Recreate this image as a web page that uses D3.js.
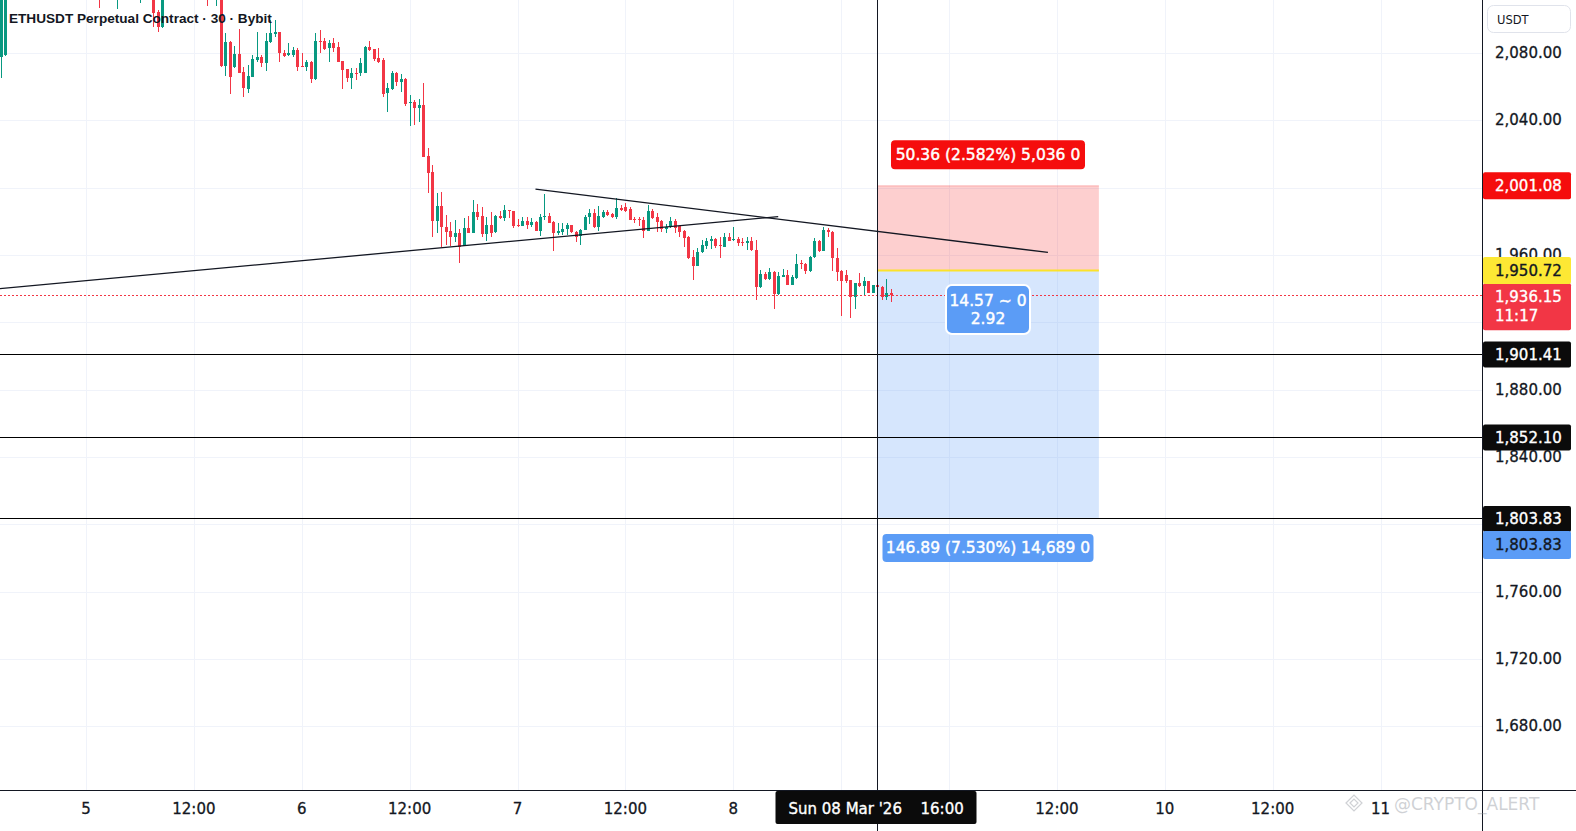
<!DOCTYPE html>
<html><head><meta charset="utf-8">
<script src="https://cdn.jsdelivr.net/npm/d3@7"></script>
<style>html,body{margin:0;padding:0;background:#fff;overflow:hidden}svg{display:block}</style>
</head><body><svg id="c" width="1576" height="831"></svg>
<script>
// ---------------- DATA ----------------
const firstCandle = new Date(2026, 2, 4, 14, 30); // 30-minute candles from here
const opens = [2077.6,2078.8,2121,2130,2127,2131,2136,2130,2124,2127,2122,2125,2129,2133,2129,2124,2126,2121,2123,2119,2122,2118,2121,2115,2120,2124,2117,2123,2128,2125,2119,2116,2122,2125,2118,2104.4,2095.5,2116,2124,2132,2137,2134,2129,2133,2126,2121,2118,2113,2114,2119,2072.3,2086.5,2071.7,2079.4,2068.7,2058.6,2065.8,2075.9,2077.6,2074.1,2086.5,2091.3,2092.5,2080,2078.8,2078.8,2081.8,2072.3,2071.7,2074.7,2064.6,2087.1,2087.1,2083,2086,2083.6,2075.3,2070.5,2065.2,2068.1,2068.1,2068.1,2083.6,2082.4,2077,2075.9,2056.2,2058.6,2068.3,2062.6,2064.6,2050.1,2051.1,2047.5,2049.1,2018.8,2009.3,1980.4,1989.1,1976.8,1974.3,1970.5,1972.9,1965.5,1975.9,1973.3,1985.7,1983.2,1972.5,1977.8,1973.5,1983.2,1982.2,1986.7,1986.1,1977.8,1977.4,1980.2,1977.8,1979.8,1974.4,1982.8,1983.4,1979.8,1972.9,1973.5,1975.3,1977.8,1973.8,1971.3,1974.8,1982.3,1985.1,1976.8,1982.8,1985.7,1984.4,1982.8,1987.7,1988.3,1987.2,1981.4,1981.4,1980.8,1974.4,1986.3,1982.4,1980.2,1975.5,1976.5,1980.4,1977.2,1974.3,1970.9,1958.6,1953.6,1961.9,1965.4,1968.5,1969.3,1965.9,1965,1970.9,1968.9,1969.7,1967.9,1967,1968.5,1963,1941,1948.7,1945.7,1950.1,1936.8,1947.1,1948.1,1942.4,1946.2,1955.4,1954.5,1950.7,1958.6,1968.5,1962.6,1974.9,1973.8,1958.4,1950.5,1948.1,1945.2,1935.2,1943.2,1941.6,1944.6,1937.6,1942.2,1940.8,1934.9,1937.2];
const highs = [2122,2126,2135,2138,2134,2140,2142,2134,2130,2133,2128,2132,2136,2139,2133,2129,2131,2127,2128,2126,2127,2125,2126,2123,2127,2129,2126,2131,2134,2130,2124,2125,2128,2129,2121,2105.5,2120,2128,2136,2141,2146,2140,2137,2138,2131,2127,2123,2121,2122,2121,2091.9,2087,2084.2,2094.3,2071.7,2072.9,2078.8,2092.5,2078.8,2091.9,2099.6,2099.6,2092.5,2081.8,2086,2083.6,2083,2080,2075.9,2075,2091.9,2093.7,2088.9,2087.7,2088.9,2086.5,2075.5,2070.7,2071.1,2071.1,2077,2084.2,2087.1,2082.6,2083,2077,2062.2,2069.3,2068.5,2067.5,2065.3,2055.1,2052.1,2052.7,2062.4,2023.6,2013.5,1996.8,1997.6,1983.8,1979.6,1980.8,1975.5,1982,1983.2,1992.7,1990.3,1988.7,1982.8,1985.7,1983.8,1986.3,1989.7,1986.9,1986.3,1981.2,1982.4,1982.8,1981.8,1980.4,1984.4,1996.2,1985.1,1980,1979.2,1978.8,1979.2,1978,1974.4,1975.3,1983.8,1987.2,1987.2,1989.1,1986.7,1986.7,1985,1993.7,1989.7,1990.7,1988.3,1982.8,1982.8,1982.8,1989.7,1987.2,1984.8,1980.8,1978.4,1982.4,1981.2,1977.4,1974.9,1971.1,1963,1964,1968.9,1969.9,1971.3,1969.9,1970.5,1972.9,1972.9,1976.5,1970.5,1969.9,1970.5,1970.5,1968.9,1951.1,1950.1,1952.1,1950.5,1950.1,1951.5,1951.1,1948.1,1960.6,1957,1955.4,1959.4,1969.9,1968.9,1976.8,1975.9,1974,1964,1951.1,1951.1,1945.4,1943.4,1949.5,1946.8,1944.8,1942.4,1942.4,1941.8,1945.6,1939.6];
const lows = [2065.2,2078,2117,2124,2120,2126,2128,2121,2118,2120,2115,2119,2124,2127,2121,2117,2119,2115,2116,2114,2116,2114,2106.7,2113,2116,2114,2106.2,2119,2122,2116,2113,2109.7,2117,2115,2095.5,2092.5,2094.9,2113,2120,2126,2131,2125,2123,2122,2117,2114,2107.9,2112,2108,2071.7,2066.4,2055.7,2071.1,2068.1,2053.9,2056.2,2065.8,2074.7,2071.7,2069.3,2086,2089.5,2074.7,2077.6,2078.2,2077.6,2069.3,2071.5,2069.3,2062.2,2064,2080,2081.8,2074.7,2080.6,2074.5,2058.6,2062.8,2058.6,2064,2066.4,2067.9,2081.2,2075.3,2074.1,2053.9,2045,2058,2060.4,2057,2048.7,2036.8,2037.2,2039.2,2018,1996.8,1970.9,1973.1,1964.9,1966,1965.4,1967.9,1955.1,1965.3,1973,1973,1980.8,1970.9,1968.5,1970.9,1973.3,1981.4,1980.2,1981.8,1976.2,1976.5,1977.2,1975.3,1976.8,1974,1971.3,1980.8,1979,1962.6,1971.9,1971.9,1971.9,1972.9,1967.9,1966,1974.6,1978.4,1975.9,1974.4,1981.8,1983.2,1982,1981.4,1986.3,1985.7,1980.6,1978.8,1977.2,1969.9,1974.2,1981.2,1973.8,1973.5,1973.3,1975.9,1972.9,1970.9,1964.9,1957.4,1945.2,1953.4,1961.4,1963.4,1963.4,1964,1958,1964.6,1968.3,1968.5,1965.4,1965.4,1963,1962.6,1933.3,1940.6,1945.2,1945.2,1927.9,1936.4,1946.9,1942.2,1942,1946,1951.7,1948.7,1950.1,1958.4,1962,1962.4,1970.5,1950.7,1944.6,1923.8,1943.2,1922.4,1927.7,1940.8,1936.2,1937.4,1937.4,1939,1933.3,1933.3,1932.3];
const closes = [2118,2121,2130,2127,2131,2136,2130,2124,2127,2122,2125,2129,2133,2129,2124,2126,2121,2123,2119,2122,2118,2121,2115,2120,2124,2117,2123,2128,2125,2119,2116,2122,2125,2118,2103.8,2095.5,2116,2124,2132,2137,2134,2129,2133,2126,2121,2118,2113,2116,2119,2072.3,2086.5,2065.8,2079.4,2068.1,2059.2,2066.4,2076.4,2077.6,2074.1,2087.1,2091.9,2092.5,2080,2078.2,2080,2081.8,2071.7,2071.7,2074.7,2064.6,2087.1,2086.5,2082.4,2086,2083,2074.7,2069.9,2065.2,2068.1,2067.6,2074.1,2083.6,2081.8,2076.4,2074.7,2055.9,2059.2,2068.3,2062.6,2064.6,2049.7,2051.1,2047.5,2049.1,2018.4,2008.9,1980.4,1989.1,1976.5,1973.5,1970.5,1973.3,1964.9,1975.9,1973.3,1985.4,1982.8,1972.5,1977.8,1973.3,1983.2,1981.8,1986.7,1986.3,1977.4,1977.4,1980.2,1977.8,1979.8,1974.4,1982.8,1983.4,1979.2,1972.9,1974.4,1975.5,1977.8,1973.5,1970.9,1974.8,1982.8,1985.1,1976.5,1983.2,1985.7,1983.8,1982.8,1987.7,1986.7,1986.3,1980.8,1980.8,1980.8,1974.4,1986.3,1981.8,1979.8,1975.3,1976.8,1980.4,1975.9,1973.8,1970.3,1958,1953.6,1961.9,1965.9,1968.5,1969.3,1965.4,1965.5,1970.9,1968.5,1969.7,1967.3,1967.3,1968.3,1963,1941.2,1948.7,1945.7,1950.1,1936.8,1947.5,1948.1,1942.4,1946.8,1954.7,1954.7,1950.7,1958.6,1968.5,1962.6,1974.9,1973.5,1958,1950.1,1944.8,1944.8,1935.2,1943.2,1941.6,1944.6,1937.6,1942.2,1940.8,1934.9,1937.2,1936.15];

const yTicks = [2080, 2040, 2000, 1960, 1920, 1880, 1840, 1800, 1760, 1720, 1680];
const xTickLabels = ["5", "12:00", "6", "12:00", "7", "12:00", "8", "12:00", "9", "12:00", "10", "12:00", "11"];
const firstTick = new Date(2026, 2, 5, 0, 0);
const horizontalLevels = [1901.41, 1852.10, 1803.83];
const trendA = [[new Date(2026, 2, 4, 14, 0), 1939.8], [new Date(2026, 2, 8, 5, 0), 1982.8]];
const trendB = [[new Date(2026, 2, 7, 2, 0), 1999.1], [new Date(2026, 2, 9, 11, 0), 1961.5]];
const entryPrice = 1950.72, stopPrice = 2001.08, targetPrice = 1803.83, lastPrice = 1936.15;
const posStart = new Date(2026, 2, 8, 16, 0), posEnd = new Date(2026, 2, 9, 16, 40);
const crosshairTime = new Date(2026, 2, 8, 16, 0);
const stopLabel = "50.36 (2.582%) 5,036 0";
const targetLabel = "146.89 (7.530%) 14,689 0";
const midLabel = ["14.57 ~ 0", "2.92"];
const countdown = "11:17";
const title = "ETHUSDT Perpetual Contract · 30 · Bybit";
const watermark = "@CRYPTO_ALERT";

// ---------------- LAYOUT ----------------
const W = 1576, H = 831, plotR = 1482, plotB = 790;
const FONT = "'DejaVu Sans', Verdana, sans-serif";
const svg = d3.select("#c");
const x = d3.scaleTime().domain([firstTick, new Date(2026, 2, 11, 0, 0)]).range([86, 86 + 144 * 8.99]);
const y = d3.scaleLinear().domain([1680, 2080]).range([53 + 400 * 1.6833, 53]);
const GREEN = "#089981", RED = "#f23645", STOPRED = "#f50d0d", BLUE = "#5b9cf6";

function heavy(sel, color, w = 0.35) {
  return sel.attr("stroke", color).attr("stroke-width", w).attr("paint-order", "stroke");
}

svg.append("rect").attr("width", W).attr("height", H).attr("fill", "#fff");
svg.append("defs").append("clipPath").attr("id", "plot")
  .append("rect").attr("x", 0).attr("y", 0).attr("width", plotR).attr("height", plotB);
const plot = svg.append("g").attr("clip-path", "url(#plot)");

// grid
const tickTimes = xTickLabels.map((_, i) => d3.timeHour.offset(firstTick, 12 * i));
const grid = plot.append("g").attr("shape-rendering", "crispEdges").attr("stroke", "#f0f3fa");
grid.selectAll(".gy").data([...yTicks, 1640]).join("line")
  .attr("x1", 0).attr("x2", plotR).attr("y1", d => Math.round(y(d)) + 0.5).attr("y2", d => Math.round(y(d)) + 0.5);
grid.selectAll(".gx").data(tickTimes).join("line")
  .attr("y1", 0).attr("y2", plotB).attr("x1", d => Math.round(x(d)) + 0.5).attr("x2", d => Math.round(x(d)) + 0.5);

// position zones
const px0 = x(posStart), px1 = x(posEnd);
plot.append("rect").attr("x", px0).attr("width", px1 - px0)
  .attr("y", y(stopPrice)).attr("height", y(entryPrice) - y(stopPrice)).attr("fill", "rgba(245,13,13,0.2)");
plot.append("line").attr("x1", px0).attr("x2", px1).attr("y1", y(stopPrice)).attr("y2", y(stopPrice))
  .attr("stroke", "rgba(245,13,13,0.25)").attr("stroke-width", 1);
plot.append("rect").attr("x", px0).attr("width", px1 - px0)
  .attr("y", y(entryPrice)).attr("height", y(targetPrice) - y(entryPrice)).attr("fill", "rgba(91,156,246,0.25)");

// candles
const candles = opens.map((o, i) => ({
  t: d3.timeMinute.offset(firstCandle, 30 * i), o, h: highs[i], l: lows[i], c: closes[i]
}));
const cg = plot.append("g").attr("shape-rendering", "crispEdges");
const cs = cg.selectAll("g").data(candles).join("g");
cs.append("line")
  .attr("x1", d => Math.round(x(d.t)) + 0.5).attr("x2", d => Math.round(x(d.t)) + 0.5)
  .attr("y1", d => y(d.h)).attr("y2", d => y(d.l))
  .attr("stroke", d => d.c >= d.o ? GREEN : RED);
cs.append("rect")
  .attr("x", d => Math.round(x(d.t)) - 1).attr("width", 3)
  .attr("y", d => y(Math.max(d.o, d.c)))
  .attr("height", d => Math.max(1, Math.abs(y(d.o) - y(d.c))))
  .attr("fill", d => d.c >= d.o ? GREEN : RED);

// horizontal levels
plot.selectAll(".hl").data(horizontalLevels).join("line")
  .attr("x1", 0).attr("x2", plotR)
  .attr("y1", d => Math.round(y(d)) + 0.5).attr("y2", d => Math.round(y(d)) + 0.5)
  .attr("stroke", "#000").attr("stroke-width", 1).attr("shape-rendering", "crispEdges");

// trend lines
const lineGen = d3.line().x(d => x(d[0])).y(d => y(d[1]));
[trendA, trendB].forEach(tl => plot.append("path").attr("d", lineGen(tl))
  .attr("fill", "none").attr("stroke", "#131722").attr("stroke-width", 1.3));

// entry line
plot.append("line").attr("x1", px0).attr("x2", px1).attr("y1", y(entryPrice)).attr("y2", y(entryPrice))
  .attr("stroke", "#fbe22a").attr("stroke-width", 2);

// last price dotted line
plot.append("line").attr("x1", 0).attr("x2", plotR)
  .attr("y1", Math.round(y(lastPrice)) + 0.5).attr("y2", Math.round(y(lastPrice)) + 0.5)
  .attr("stroke", RED).attr("stroke-dasharray", "2,2").attr("shape-rendering", "crispEdges");

// crosshair
const chx = Math.round(x(crosshairTime)) + 0.5;
svg.append("line").attr("x1", chx).attr("x2", chx).attr("y1", 0).attr("y2", plotB)
  .attr("stroke", "#131722").attr("stroke-width", 1).attr("shape-rendering", "crispEdges");

// position labels
const pcx = (px0 + px1) / 2;
function boxLabel(cx, cy, w, h, fill, lines, opts = {}) {
  const g = svg.append("g");
  g.append("rect").attr("x", cx - w / 2).attr("y", cy - h / 2).attr("width", w).attr("height", h)
    .attr("rx", opts.rx || 4).attr("fill", fill)
    .attr("stroke", opts.stroke || "none").attr("stroke-width", opts.sw || 0);
  const lh = opts.lh || 17.5;
  lines.forEach((s, i) => {
    heavy(g.append("text").attr("x", cx).attr("y", cy + (i - (lines.length - 1) / 2) * lh + 5.6)
      .attr("text-anchor", "middle").attr("fill", "#fff").attr("font-family", FONT)
      .attr("font-size", opts.fs || 15.5).text(s), "#fff", 0.45);
  });
}
boxLabel(pcx, y(stopPrice) - 31, 194, 29, STOPRED, [stopLabel]);
boxLabel(pcx, y(targetPrice) + 30, 211, 28, BLUE, [targetLabel]);
boxLabel(pcx, 309.5, 84, 49, BLUE, midLabel, {stroke: "#fff", sw: 2, rx: 6, lh: 17.6});

// title
svg.append("text").attr("x", 9).attr("y", 23).attr("font-family", "'Liberation Sans', Arial, sans-serif")
  .attr("font-weight", "bold").attr("font-size", 13.6).attr("fill", "#131722").text(title);

// ---------------- AXES ----------------
svg.append("rect").attr("x", plotR).attr("y", 0).attr("width", W - plotR).attr("height", H).attr("fill", "#fff");
svg.append("rect").attr("x", 0).attr("y", plotB).attr("width", W).attr("height", H - plotB).attr("fill", "#fff");
svg.append("line").attr("x1", plotR + 0.5).attr("x2", plotR + 0.5).attr("y1", 0).attr("y2", H)
  .attr("stroke", "#131722").attr("shape-rendering", "crispEdges");
svg.append("line").attr("x1", 0).attr("x2", W).attr("y1", plotB + 0.5).attr("y2", plotB + 0.5)
  .attr("stroke", "#131722").attr("shape-rendering", "crispEdges");
svg.append("line").attr("x1", chx).attr("x2", chx).attr("y1", plotB).attr("y2", H)
  .attr("stroke", "#131722").attr("shape-rendering", "crispEdges");

const fmt = d3.format(",.2f");

// axis price labels (boxes) definitions
const axisBoxes = [
  {cy: y(stopPrice), h: 27, fill: STOPRED, color: "#fff", lines: [fmt(stopPrice)]},
  {cy: y(lastPrice) + 11.5, h: 47, fill: RED, color: "#fff", lines: [fmt(lastPrice), countdown]},
  {cy: y(entryPrice), h: 27, fill: "#fde834", color: "#131722", lines: [fmt(entryPrice)]},
  ...horizontalLevels.map(v => ({cy: y(v) + 1, h: 26, fill: "#0b0b0b", color: "#fff", lines: [fmt(v)]})),
  {cy: y(targetPrice) + 27, h: 28, fill: BLUE, color: "#131722", lines: [fmt(targetPrice)]}
];
// tick labels fully covered by a price box are not drawn (the terminal hides them)
const shownTicks = yTicks.filter(v => !axisBoxes.some(b =>
  b.cy - b.h / 2 <= y(v) - 5 && b.cy + b.h / 2 >= y(v) + 5));
heavy(svg.append("g").selectAll("text").data(shownTicks).join("text")
  .attr("x", 1495).attr("y", d => y(d) + 5).attr("font-family", FONT).attr("font-size", 15)
  .attr("fill", "#131722").text(d => fmt(d)), "#131722", 0.3);

// USDT button
svg.append("rect").attr("x", 1487.5).attr("y", 5.5).attr("width", 83).attr("height", 27).attr("rx", 6)
  .attr("fill", "#fff").attr("stroke", "#e0e3eb");
svg.append("text").attr("x", 1497).attr("y", 23.5).attr("font-family", FONT).attr("font-size", 11.5)
  .attr("fill", "#131722").text("USDT");

axisBoxes.forEach(b => {
  svg.append("rect").attr("x", plotR + 1).attr("y", b.cy - b.h / 2).attr("width", 88).attr("height", b.h)
    .attr("rx", 2).attr("fill", b.fill);
  b.lines.forEach((s, i) => heavy(svg.append("text").attr("x", 1495)
    .attr("y", b.cy - (b.lines.length - 1) * 9.5 + i * 19 + 5.2)
    .attr("font-family", FONT).attr("font-size", 15).attr("fill", b.color).text(s), b.color, 0.35));
});

// time ticks (those under the crosshair time label are hidden, as in the terminal)
const chLeft = chx - 102, chRight = chx + 99;
const visibleTicks = tickTimes.map((t, i) => ({t, label: xTickLabels[i]}))
  .filter(d => x(d.t) < chLeft - 10 || x(d.t) > chRight + 10);
heavy(svg.append("g").selectAll("text").data(visibleTicks).join("text")
  .attr("x", d => x(d.t)).attr("y", 814).attr("text-anchor", "middle")
  .attr("font-family", FONT).attr("font-size", 15).attr("fill", "#131722")
  .text(d => d.label), "#131722", 0.3);

// crosshair time label
svg.append("rect").attr("x", chLeft).attr("y", plotB + 1).attr("width", 201).attr("height", 33)
  .attr("rx", 2).attr("fill", "#0b0b0b");
heavy(svg.append("text").attr("x", chx - 89).attr("y", 814).attr("font-family", FONT).attr("font-size", 15)
  .attr("fill", "#fff").text("Sun 08 Mar '26"), "#fff", 0.35);
heavy(svg.append("text").attr("x", chx + 43).attr("y", 814).attr("font-family", FONT).attr("font-size", 15)
  .attr("fill", "#fff").text(d3.timeFormat("%H:%M")(crosshairTime)), "#fff", 0.35);

// watermark
const wm = svg.append("g").attr("opacity", 0.4);
wm.append("path").attr("d", "M1346,803 l8,-8 l8,8 l-8,8 z M1350,803 l4,-4 l4,4 l-4,4 z")
  .attr("fill", "none").attr("stroke", "#8a8f98").attr("stroke-width", 1.2);
wm.append("text").attr("x", 1394).attr("y", 810).attr("font-family", FONT).attr("font-size", 17)
  .attr("fill", "#8a8f98").text(watermark);
</script></body></html>
